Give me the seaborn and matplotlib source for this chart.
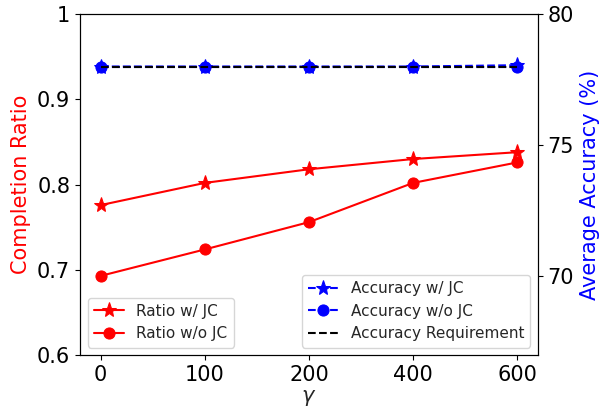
import matplotlib
matplotlib.use("Agg")
import matplotlib.pyplot as plt
import seaborn as sns

sns.set_style("ticks", {"axes.edgecolor": "black", "xtick.color": "black", "ytick.color": "black"})
plt.rcParams['font.family'] = ['DejaVu Sans']

gamma_labels = ["0", "100", "200", "400", "600"]
ratio_jc = [0.776, 0.802, 0.818, 0.830, 0.838]
ratio_nojc = [0.693, 0.724, 0.756, 0.802, 0.826]
acc_jc = [78.0, 78.0, 78.0, 78.0, 78.05]
acc_nojc = [78.0, 78.0, 78.0, 78.0, 78.0]
acc_req = [78.0, 78.0, 78.0, 78.0, 78.0]

pos = list(range(len(gamma_labels)))

fig, ax = plt.subplots(figsize=(6.1, 4.13), dpi=100)
ax2 = ax.twinx()

sns.lineplot(x=pos, y=ratio_jc, color='red', marker='*', markersize=11, markeredgecolor='red',
             linewidth=1.5, label='Ratio w/ JC', ax=ax)
sns.lineplot(x=pos, y=ratio_nojc, color='red', marker='o', markersize=8, markeredgecolor='red',
             linewidth=1.5, label='Ratio w/o JC', ax=ax)

sns.lineplot(x=pos, y=acc_jc, color='blue', marker='*', markersize=11, markeredgecolor='blue',
             linewidth=1.5, linestyle='--', label='Accuracy w/ JC', ax=ax2)
sns.lineplot(x=pos, y=acc_nojc, color='blue', marker='o', markersize=8, markeredgecolor='blue',
             linewidth=1.5, linestyle='--', label='Accuracy w/o JC', ax=ax2)
sns.lineplot(x=pos, y=acc_req, color='black', linestyle='--', linewidth=1.5,
             label='Accuracy Requirement', ax=ax2)

ax.set_xlim(-0.2, 4.2)
ax.set_ylim(0.6, 1.0)
ax.set_yticks([0.6, 0.7, 0.8, 0.9, 1.0])
ax.set_yticklabels(['0.6', '0.7', '0.8', '0.9', '1'])
ax.set_xticks(pos)
ax.set_xticklabels(gamma_labels)
ax2.set_ylim(67, 80)
ax2.set_yticks([70, 75, 80])

ax.tick_params(labelsize=15)
ax2.tick_params(labelsize=15)
ax.set_xlabel(r'$\gamma$', fontsize=15, labelpad=2)
ax.set_ylabel('Completion Ratio', fontsize=15, color='red')
ax2.set_ylabel('Average Accuracy (%)', fontsize=15, color='blue')

ax.legend(loc='lower left', fontsize=11)
ax2.legend(loc='lower right', fontsize=11)

fig.subplots_adjust(left=0.131, right=0.882, top=0.966, bottom=0.14)
fig.savefig('out.png', dpi=100)
